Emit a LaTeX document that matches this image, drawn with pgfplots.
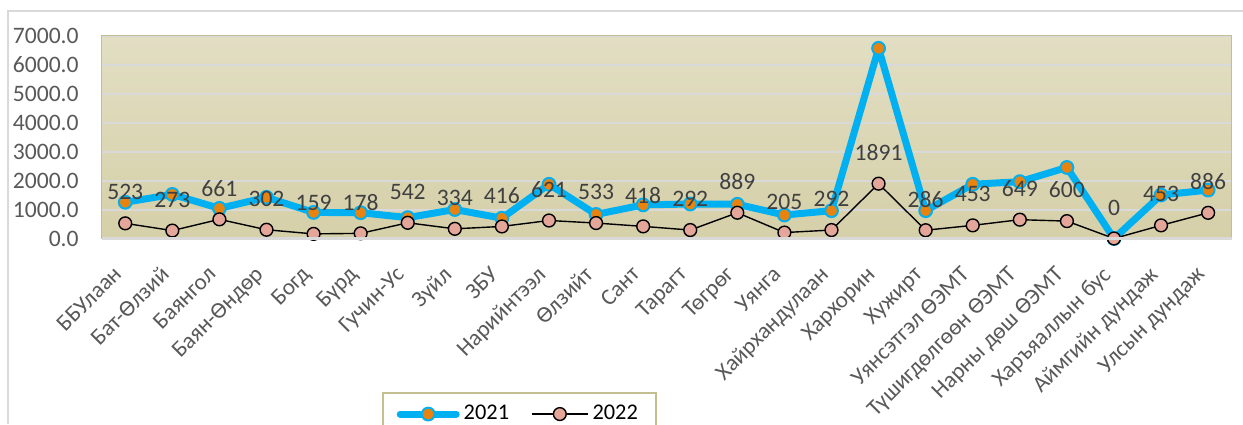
\documentclass[border=0pt]{standalone}
\usepackage{fontspec}
\setmainfont{Carlito}
\usepackage{pgfplots}
\pgfplotsset{compat=1.18}
\definecolor{c21}{HTML}{00B0F0}
\definecolor{o21}{HTML}{E8830F}
\definecolor{p22}{HTML}{E3A699}
\definecolor{bgtop}{HTML}{E2DEC3}
\definecolor{bgbot}{HTML}{D5D0A8}
\definecolor{framec}{HTML}{C4BE90}
\definecolor{gridc}{HTML}{D9D9D9}
\definecolor{tickc}{HTML}{595959}
\definecolor{labc}{HTML}{404040}
\begin{document}
\begin{tikzpicture}
\path[use as bounding box] (0pt,0pt) rectangle (621.5pt,-212pt);
\draw[gridc, line width=0.8pt] (4pt,-212pt) -- (4pt,-5.5pt) -- (621.5pt,-5.5pt);
\begin{axis}[
  at={(50.85pt,-119.25pt)}, anchor=south west,
  scale only axis, width=565pt, height=101.5pt,
  xmin=0.5, xmax=24.5, ymin=0, ymax=7000,
  clip=false,
  axis background/.style={shade, top color=bgtop, bottom color=bgbot},
  axis line style={framec, line width=0.6pt},
  major tick length=0pt,
  ytick={0,1000,...,7000},
  ymajorgrids, major grid style={gridc, line width=1pt},
  yticklabel style={font=\fontsize{11.8}{14}\selectfont, text=tickc, xshift=-8pt},
  /pgf/number format/.cd, fixed, fixed zerofill, precision=1, 1000 sep={}, assume math mode=true,
  /pgfplots/.cd,
  xtick={1,...,24},
  xticklabels={ББУлаан,Бат-Өлзий,Баянгол,Баян-Өндөр,Богд,Бүрд,Гучин-Ус,Зүйл,ЗБУ,Нарийнтээл,Өлзийт,Сант,Тарагт,Төгрөг,Уянга,Хайрхандулаан,Хархорин,Хужирт,Уянсэтгэл ӨЭМТ,Түшигдөлгөөн ӨЭМТ,Нарны дөш ӨЭМТ,Харъяаллын бус,Аймгийн дундаж,Улсын дундаж},
  xticklabel style={font=\fontsize{11.5}{13}\selectfont, text=tickc, inner sep=0pt, xshift=-6.5pt, yshift=-13pt, rotate=45, anchor=north east},
  legend columns=2,
  legend style={at={(axis description cs:0.2478,-0.7576)}, anchor=north west,
    draw=framec, line width=1pt, fill=white, font=\fontsize{11.2}{13}\selectfont,
    inner xsep=7pt, inner ysep=4pt,
    /tikz/every even column/.append style={column sep=9pt}},
  legend image code/.code={\draw[mark repeat=2,mark phase=2,#1] plot coordinates {(0pt,0pt) (14pt,0pt) (28pt,0pt)};},
  after end axis/.code={\draw[gridc, line width=1.2pt] (rel axis cs:0,0) -- (rel axis cs:1,0);},
]
\addplot[c21, line width=3.5pt, line cap=round, line join=round, mark=*, mark size=3.2pt,
  mark options={fill=o21, draw=c21, line width=1pt}]
 coordinates {(1,1250)(2,1520)(3,1040)(4,1420)(5,900)(6,890)(7,720)(8,1000)(9,700)(10,1870)(11,830)(12,1160)(13,1190)(14,1180)(15,810)(16,960)(17,6560)(18,960)(19,1870)(20,1960)(21,2450)(22,0)(23,1500)(24,1670)};
\addlegendentry{2021}
\addplot[black, line width=0.7pt, mark=*, mark size=3.2pt,
  mark options={fill=p22, draw=black, line width=0.7pt},
  point meta=explicit symbolic,
  nodes near coords,
  every node near coord/.append style={anchor=center, yshift=15.5pt, font=\fontsize{11.8}{14}\selectfont, text=labc}]
 coordinates {(1,523)[523](2,273)[273](3,661)[661](4,302)[302](5,159)[159](6,178)[178](7,542)[542](8,334)[334](9,416)[416](10,621)[621](11,533)[533](12,418)[418](13,292)[292](14,889)[889](15,205)[205](16,292)[292](17,1891)[1891](18,286)[286](19,453)[453](20,649)[649](21,600)[600](22,0)[0](23,453)[453](24,886)[886]};
\addlegendentry{2022}
\end{axis}
\end{tikzpicture}
\end{document}
